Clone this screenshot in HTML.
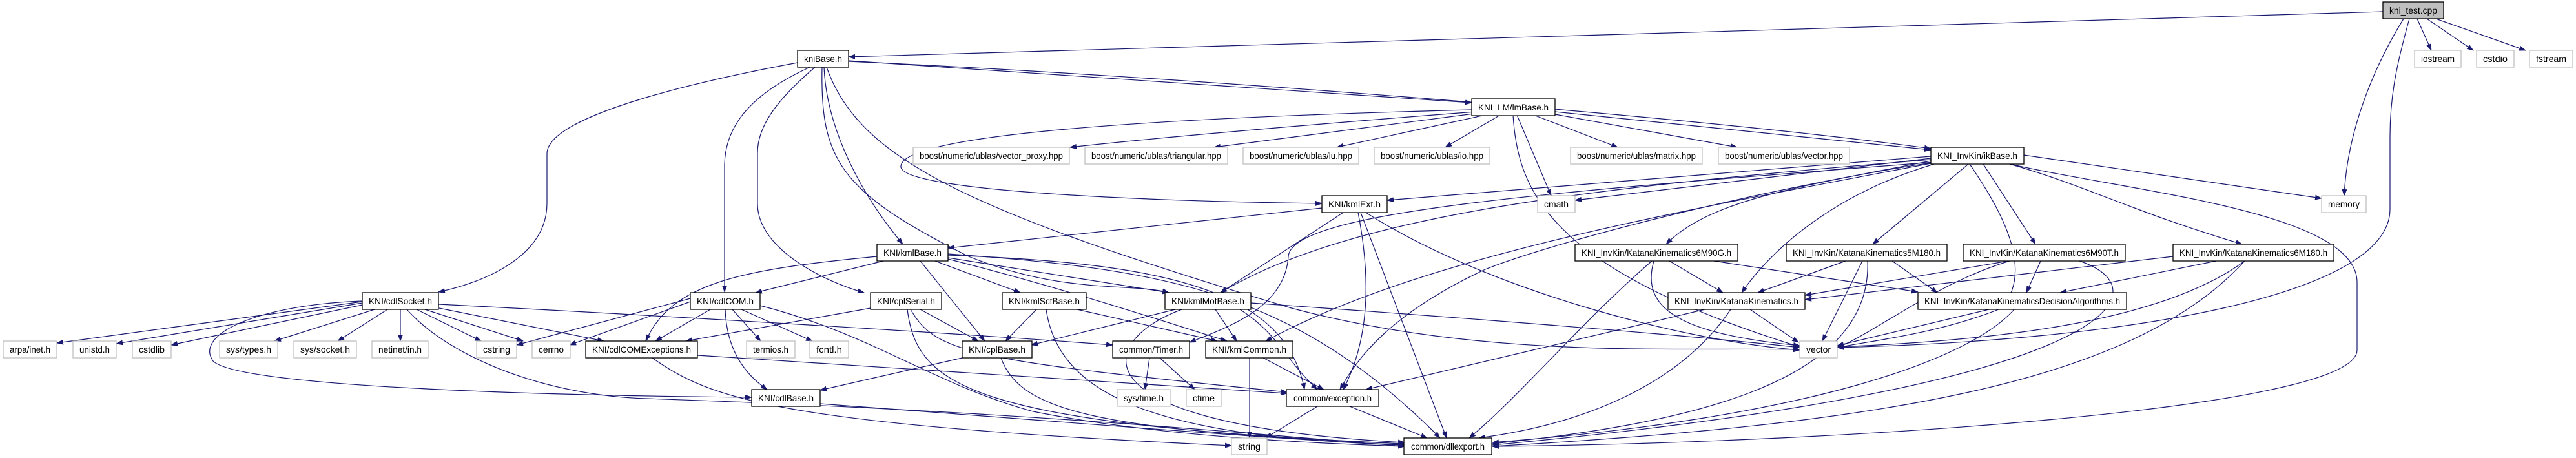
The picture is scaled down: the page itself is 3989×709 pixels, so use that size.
<!DOCTYPE html>
<html><head><meta charset="utf-8"><style>
html,body{margin:0;padding:0;background:#fff;}
svg{display:block;}
text{font-family:"Liberation Sans",sans-serif;font-size:14px;fill:#000;}
.e{fill:none;stroke:#191970;stroke-width:1.2;marker-end:url(#a);}
.k{fill:#fff;stroke:#000;stroke-width:1.3;}
.s{fill:#fff;stroke:#bfbfbf;stroke-width:1.3;}
</style></head><body>
<svg width="3989" height="709" viewBox="0 0 3989 709" xmlns="http://www.w3.org/2000/svg">
<defs><marker id="a" markerWidth="11" markerHeight="8" refX="10" refY="4" orient="auto" markerUnits="userSpaceOnUse"><path d="M0,0L11,4L0,8z" fill="#191970"/></marker></defs>
<g transform="translate(0,-3)">
<!-- edges -->
<path class="e" d="M3690,21 C3000,40 1800,80 1314,91"/>
<path class="e" d="M3743,32 L3765,81"/>
<path class="e" d="M3758,32 L3830,81"/>
<path class="e" d="M3772,32 L3911,81"/>
<path class="e" d="M3722,32 C3680,100 3635,200 3630,306"/>
<path class="e" d="M3731,32 C3712,100 3701,150 3701,214 L3701,327 C3701,460 3300,530 2845,541"/>
<path class="e" d="M1235,100 C1100,125 847,180 847,241 L847,318 C847,400 750,440 679,455"/>
<path class="e" d="M1314,97 L2279,162"/>
<path class="e" d="M1314,98 C1800,120 2600,180 2990,233"/>
<path class="e" d="M1254,107 C1160,150 1122,200 1122,260 L1122,455"/>
<path class="e" d="M1262,107 C1200,160 1173,200 1173,240 L1173,318 C1173,390 1280,440 1338,456"/>
<path class="e" d="M1276,107 C1280,200 1330,300 1398,381"/>
<path class="e" d="M1273,107 C1270,250 1300,300 1500,400 C1650,460 1750,440 1810,456"/>
<path class="e" d="M1280,107 C1330,250 1500,330 2000,480 C2300,560 2600,540 2787,544"/>
<path class="e" d="M2285,176 C2100,190 1800,215 1657,231"/>
<path class="e" d="M2290,178 L1880,231"/>
<path class="e" d="M2300,181 L2070,231"/>
<path class="e" d="M2323,181 L2238,231"/>
<path class="e" d="M2375,181 L2505,231"/>
<path class="e" d="M2408,180 L2690,231"/>
<path class="e" d="M2349,181 L2402,306"/>
<path class="e" d="M2343,181 C2350,300 2400,420 2787,540"/>
<path class="e" d="M2408,176 L2990,235"/>
<path class="e" d="M2279,173 C1800,185 1400,210 1395,260 C1390,300 1800,315 2047,318"/>
<path class="e" d="M3134,243 L3595,310"/>
<path class="e" d="M3112,257 C3230,290 3300,330 3472,381"/>
<path class="e" d="M3071,257 L3152,381"/>
<path class="e" d="M3048,257 L2900,381"/>
<path class="e" d="M2990,252 C2800,290 2650,310 2580,381"/>
<path class="e" d="M2995,257 C2850,300 2750,380 2697,456"/>
<path class="e" d="M2990,245 L2148,313"/>
<path class="e" d="M2990,248 L2439,313"/>
<path class="e" d="M3050,257 C3100,330 3150,420 3100,480 C3000,520 2900,530 2845,541"/>
<path class="e" d="M3113,257 C3300,300 3650,330 3650,440 L3650,545 C3650,640 2800,690 2311,694"/>
<path class="e" d="M2990,255 C2700,300 2400,380 2300,420 C2150,490 2100,560 2075,606"/>
<path class="e" d="M2990,250 C2500,290 2100,330 1890,456"/>
<path class="e" d="M2995,254 C2400,300 2000,330 1995,400 C1990,480 1900,510 1842,533"/>
<path class="e" d="M2990,256 C2600,330 2200,400 1960,531"/>
<path class="e" d="M2047,325 L1468,387"/>
<path class="e" d="M2080,332 L1890,456"/>
<path class="e" d="M2103,332 C2120,420 2125,520 2080,606"/>
<path class="e" d="M2107,332 L2240,681"/>
<path class="e" d="M2115,332 C2300,450 2600,530 2787,545"/>
<path class="e" d="M2585,407 L2668,456"/>
<path class="e" d="M2654,407 L2970,455"/>
<path class="e" d="M2561,407 C2540,480 2600,520 2787,538"/>
<path class="e" d="M2558,407 C2450,500 2350,620 2275,681"/>
<path class="e" d="M2858,407 L2722,456"/>
<path class="e" d="M2930,407 L3000,456"/>
<path class="e" d="M2884,407 L2822,531"/>
<path class="e" d="M2892,407 C2900,600 2600,660 2311,690"/>
<path class="e" d="M3110,407 L2795,460"/>
<path class="e" d="M3160,407 L3138,456"/>
<path class="e" d="M3112,407 C3000,440 2900,520 2845,541"/>
<path class="e" d="M3220,407 C3350,450 3300,600 2311,692"/>
<path class="e" d="M3365,400 L2795,467"/>
<path class="e" d="M3432,407 L3190,456"/>
<path class="e" d="M3476,407 C3350,500 3100,530 2845,540"/>
<path class="e" d="M3476,407 C3300,600 2900,660 2311,694"/>
<path class="e" d="M2710,482 L2785,533"/>
<path class="e" d="M2640,482 L2115,606"/>
<path class="e" d="M2680,482 C2600,600 2450,660 2290,681"/>
<path class="e" d="M3080,482 L2845,538"/>
<path class="e" d="M3119,482 C3050,560 2800,650 2311,688"/>
<path class="e" d="M1368,407 L1170,456"/>
<path class="e" d="M1358,400 C1150,420 1040,440 1000,531"/>
<path class="e" d="M1448,407 L1580,456"/>
<path class="e" d="M1468,402 L1810,456"/>
<path class="e" d="M1425,407 L1525,531"/>
<path class="e" d="M1468,404 C1650,450 1800,500 1900,531"/>
<path class="e" d="M1468,398 C1800,410 1990,450 2020,606"/>
<path class="e" d="M1468,396 C1800,420 2000,450 2230,681"/>
<path class="e" d="M1100,482 L1015,531"/>
<path class="e" d="M1134,482 L1178,531"/>
<path class="e" d="M1148,482 L1258,531"/>
<path class="e" d="M1069,470 L882,537"/>
<path class="e" d="M1069,465 L800,537"/>
<path class="e" d="M1123,482 C1125,540 1150,580 1188,606"/>
<path class="e" d="M1177,476 C1350,520 1450,600 1600,640 C1800,680 2050,690 2175,694"/>
<path class="e" d="M1348,480 L1062,531"/>
<path class="e" d="M1425,482 L1515,531"/>
<path class="e" d="M1405,482 C1420,600 1500,660 2175,690"/>
<path class="e" d="M1410,482 C1450,550 1500,560 1993,610"/>
<path class="e" d="M1605,482 L1557,531"/>
<path class="e" d="M1668,482 L1885,531"/>
<path class="e" d="M1620,482 C1640,620 1800,680 2175,692"/>
<path class="e" d="M1820,482 L1597,537"/>
<path class="e" d="M1882,482 L1915,531"/>
<path class="e" d="M1920,482 C1980,520 1990,560 2040,606"/>
<path class="e" d="M1830,482 C1700,530 1650,660 2175,688"/>
<path class="e" d="M1937,472 C2200,490 2600,520 2787,541"/>
<path class="e" d="M561,470 L88,534"/>
<path class="e" d="M561,472 L180,535"/>
<path class="e" d="M561,475 L265,537"/>
<path class="e" d="M580,482 L425,531"/>
<path class="e" d="M600,482 L523,531"/>
<path class="e" d="M620,482 L620,531"/>
<path class="e" d="M645,482 L745,531"/>
<path class="e" d="M658,482 L810,531"/>
<path class="e" d="M680,480 L935,531"/>
<path class="e" d="M679,474 C1000,490 1500,520 1723,537"/>
<path class="e" d="M561,469 C400,475 300,520 330,562 C370,600 800,615 1164,618"/>
<path class="e" d="M630,482 C700,560 850,615 1000,620 C1600,640 2000,680 2175,694"/>
<path class="e" d="M1080,553 L1993,612"/>
<path class="e" d="M1010,557 C1100,620 1200,660 1907,693"/>
<path class="e" d="M1490,557 L1270,607"/>
<path class="e" d="M1550,557 C1580,640 1700,670 2175,690"/>
<path class="e" d="M1780,557 L1773,606"/>
<path class="e" d="M1796,557 L1850,606"/>
<path class="e" d="M1935,557 L1935,681"/>
<path class="e" d="M1956,557 L2050,606"/>
<path class="e" d="M2040,632 L1960,681"/>
<path class="e" d="M2090,632 L2210,681"/>
<path class="e" d="M1270,628 C1700,660 2000,685 2175,692"/>
<!-- nodes -->
<rect x="3690" y="6" width="94" height="26" fill="#bfbfbf" stroke="#000" stroke-width="1.3"/><text x="3737" y="24" text-anchor="middle" textLength="74" lengthAdjust="spacingAndGlyphs">kni_test.cpp</text>
<rect class="k" x="1235" y="81" width="79" height="26"/><text x="1274.5" y="99" text-anchor="middle" textLength="59" lengthAdjust="spacingAndGlyphs">kniBase.h</text>
<rect class="s" x="3739" y="81" width="72" height="26"/><text x="3775" y="99" text-anchor="middle" textLength="52" lengthAdjust="spacingAndGlyphs">iostream</text>
<rect class="s" x="3835" y="81" width="58" height="26"/><text x="3864" y="99" text-anchor="middle" textLength="38" lengthAdjust="spacingAndGlyphs">cstdio</text>
<rect class="s" x="3917" y="81" width="67" height="26"/><text x="3950.5" y="99" text-anchor="middle" textLength="47" lengthAdjust="spacingAndGlyphs">fstream</text>
<rect class="k" x="2279" y="156" width="129" height="26"/><text x="2343.5" y="174" text-anchor="middle" textLength="109" lengthAdjust="spacingAndGlyphs">KNI_LM/lmBase.h</text>
<rect class="s" x="1414" y="231" width="242" height="26"/><text x="1535" y="249" text-anchor="middle" textLength="222" lengthAdjust="spacingAndGlyphs">boost/numeric/ublas/vector_proxy.hpp</text>
<rect class="s" x="1680" y="231" width="221" height="26"/><text x="1790.5" y="249" text-anchor="middle" textLength="201" lengthAdjust="spacingAndGlyphs">boost/numeric/ublas/triangular.hpp</text>
<rect class="s" x="1925" y="231" width="179" height="26"/><text x="2014.5" y="249" text-anchor="middle" textLength="159" lengthAdjust="spacingAndGlyphs">boost/numeric/ublas/lu.hpp</text>
<rect class="s" x="2128" y="231" width="179" height="26"/><text x="2217.5" y="249" text-anchor="middle" textLength="159" lengthAdjust="spacingAndGlyphs">boost/numeric/ublas/io.hpp</text>
<rect class="s" x="2432" y="231" width="204" height="26"/><text x="2534" y="249" text-anchor="middle" textLength="184" lengthAdjust="spacingAndGlyphs">boost/numeric/ublas/matrix.hpp</text>
<rect class="s" x="2661" y="231" width="203" height="26"/><text x="2762.5" y="249" text-anchor="middle" textLength="183" lengthAdjust="spacingAndGlyphs">boost/numeric/ublas/vector.hpp</text>
<rect class="k" x="2990" y="231" width="144" height="26"/><text x="3062" y="249" text-anchor="middle" textLength="124" lengthAdjust="spacingAndGlyphs">KNI_InvKin/ikBase.h</text>
<rect class="k" x="2047" y="306" width="101" height="26"/><text x="2097.5" y="324" text-anchor="middle" textLength="81" lengthAdjust="spacingAndGlyphs">KNI/kmlExt.h</text>
<rect class="s" x="2381" y="306" width="58" height="26"/><text x="2410" y="324" text-anchor="middle" textLength="38" lengthAdjust="spacingAndGlyphs">cmath</text>
<rect class="s" x="3595" y="306" width="69" height="26"/><text x="3629.5" y="324" text-anchor="middle" textLength="49" lengthAdjust="spacingAndGlyphs">memory</text>
<rect class="k" x="1358" y="381" width="110" height="26"/><text x="1413" y="399" text-anchor="middle" textLength="90" lengthAdjust="spacingAndGlyphs">KNI/kmlBase.h</text>
<rect class="k" x="2439" y="381" width="252" height="26"/><text x="2565" y="399" text-anchor="middle" textLength="232" lengthAdjust="spacingAndGlyphs">KNI_InvKin/KatanaKinematics6M90G.h</text>
<rect class="k" x="2766" y="381" width="249" height="26"/><text x="2890.5" y="399" text-anchor="middle" textLength="229" lengthAdjust="spacingAndGlyphs">KNI_InvKin/KatanaKinematics5M180.h</text>
<rect class="k" x="3040" y="381" width="251" height="26"/><text x="3165.5" y="399" text-anchor="middle" textLength="231" lengthAdjust="spacingAndGlyphs">KNI_InvKin/KatanaKinematics6M90T.h</text>
<rect class="k" x="3365" y="381" width="249" height="26"/><text x="3489.5" y="399" text-anchor="middle" textLength="229" lengthAdjust="spacingAndGlyphs">KNI_InvKin/KatanaKinematics6M180.h</text>
<rect class="k" x="561" y="456" width="118" height="26"/><text x="620" y="474" text-anchor="middle" textLength="98" lengthAdjust="spacingAndGlyphs">KNI/cdlSocket.h</text>
<rect class="k" x="1069" y="456" width="108" height="26"/><text x="1123" y="474" text-anchor="middle" textLength="88" lengthAdjust="spacingAndGlyphs">KNI/cdlCOM.h</text>
<rect class="k" x="1348" y="456" width="110" height="26"/><text x="1403" y="474" text-anchor="middle" textLength="90" lengthAdjust="spacingAndGlyphs">KNI/cplSerial.h</text>
<rect class="k" x="1552" y="456" width="130" height="26"/><text x="1617" y="474" text-anchor="middle" textLength="110" lengthAdjust="spacingAndGlyphs">KNI/kmlSctBase.h</text>
<rect class="k" x="1804" y="456" width="133" height="26"/><text x="1870.5" y="474" text-anchor="middle" textLength="113" lengthAdjust="spacingAndGlyphs">KNI/kmlMotBase.h</text>
<rect class="k" x="2583" y="456" width="212" height="26"/><text x="2689" y="474" text-anchor="middle" textLength="192" lengthAdjust="spacingAndGlyphs">KNI_InvKin/KatanaKinematics.h</text>
<rect class="k" x="2970" y="456" width="323" height="26"/><text x="3131.5" y="474" text-anchor="middle" textLength="303" lengthAdjust="spacingAndGlyphs">KNI_InvKin/KatanaKinematicsDecisionAlgorithms.h</text>
<rect class="s" x="5" y="531" width="83" height="26"/><text x="46.5" y="549" text-anchor="middle" textLength="63" lengthAdjust="spacingAndGlyphs">arpa/inet.h</text>
<rect class="s" x="113" y="531" width="67" height="26"/><text x="146.5" y="549" text-anchor="middle" textLength="47" lengthAdjust="spacingAndGlyphs">unistd.h</text>
<rect class="s" x="205" y="531" width="60" height="26"/><text x="235" y="549" text-anchor="middle" textLength="40" lengthAdjust="spacingAndGlyphs">cstdlib</text>
<rect class="s" x="340" y="531" width="90" height="26"/><text x="385" y="549" text-anchor="middle" textLength="70" lengthAdjust="spacingAndGlyphs">sys/types.h</text>
<rect class="s" x="455" y="531" width="97" height="26"/><text x="503.5" y="549" text-anchor="middle" textLength="77" lengthAdjust="spacingAndGlyphs">sys/socket.h</text>
<rect class="s" x="576" y="531" width="87" height="26"/><text x="619.5" y="549" text-anchor="middle" textLength="67" lengthAdjust="spacingAndGlyphs">netinet/in.h</text>
<rect class="s" x="738" y="531" width="62" height="26"/><text x="769" y="549" text-anchor="middle" textLength="42" lengthAdjust="spacingAndGlyphs">cstring</text>
<rect class="s" x="824" y="531" width="59" height="26"/><text x="853.5" y="549" text-anchor="middle" textLength="39" lengthAdjust="spacingAndGlyphs">cerrno</text>
<rect class="k" x="907" y="531" width="173" height="26"/><text x="993.5" y="549" text-anchor="middle" textLength="153" lengthAdjust="spacingAndGlyphs">KNI/cdlCOMExceptions.h</text>
<rect class="s" x="1156" y="531" width="75" height="26"/><text x="1193.5" y="549" text-anchor="middle" textLength="55" lengthAdjust="spacingAndGlyphs">termios.h</text>
<rect class="s" x="1254" y="531" width="60" height="26"/><text x="1284" y="549" text-anchor="middle" textLength="40" lengthAdjust="spacingAndGlyphs">fcntl.h</text>
<rect class="k" x="1490" y="531" width="108" height="26"/><text x="1544" y="549" text-anchor="middle" textLength="88" lengthAdjust="spacingAndGlyphs">KNI/cplBase.h</text>
<rect class="k" x="1723" y="531" width="119" height="26"/><text x="1782.5" y="549" text-anchor="middle" textLength="99" lengthAdjust="spacingAndGlyphs">common/Timer.h</text>
<rect class="k" x="1867" y="531" width="135" height="26"/><text x="1934.5" y="549" text-anchor="middle" textLength="115" lengthAdjust="spacingAndGlyphs">KNI/kmlCommon.h</text>
<rect class="s" x="2787" y="531" width="58" height="26"/><text x="2816" y="549" text-anchor="middle" textLength="38" lengthAdjust="spacingAndGlyphs">vector</text>
<rect class="k" x="1164" y="606" width="106" height="26"/><text x="1217" y="624" text-anchor="middle" textLength="86" lengthAdjust="spacingAndGlyphs">KNI/cdlBase.h</text>
<rect class="s" x="1730" y="606" width="82" height="26"/><text x="1771" y="624" text-anchor="middle" textLength="62" lengthAdjust="spacingAndGlyphs">sys/time.h</text>
<rect class="s" x="1837" y="606" width="54" height="26"/><text x="1864" y="624" text-anchor="middle" textLength="34" lengthAdjust="spacingAndGlyphs">ctime</text>
<rect class="k" x="1992" y="606" width="143" height="26"/><text x="2063.5" y="624" text-anchor="middle" textLength="121" lengthAdjust="spacingAndGlyphs">common/exception.h</text>
<rect class="s" x="1907" y="681" width="55" height="26"/><text x="1934.5" y="699" text-anchor="middle" textLength="35" lengthAdjust="spacingAndGlyphs">string</text>
<rect class="k" x="2174" y="681" width="136" height="26"/><text x="2242" y="699" text-anchor="middle" textLength="114" lengthAdjust="spacingAndGlyphs">common/dllexport.h</text>
</g>
</svg>
</body></html>
